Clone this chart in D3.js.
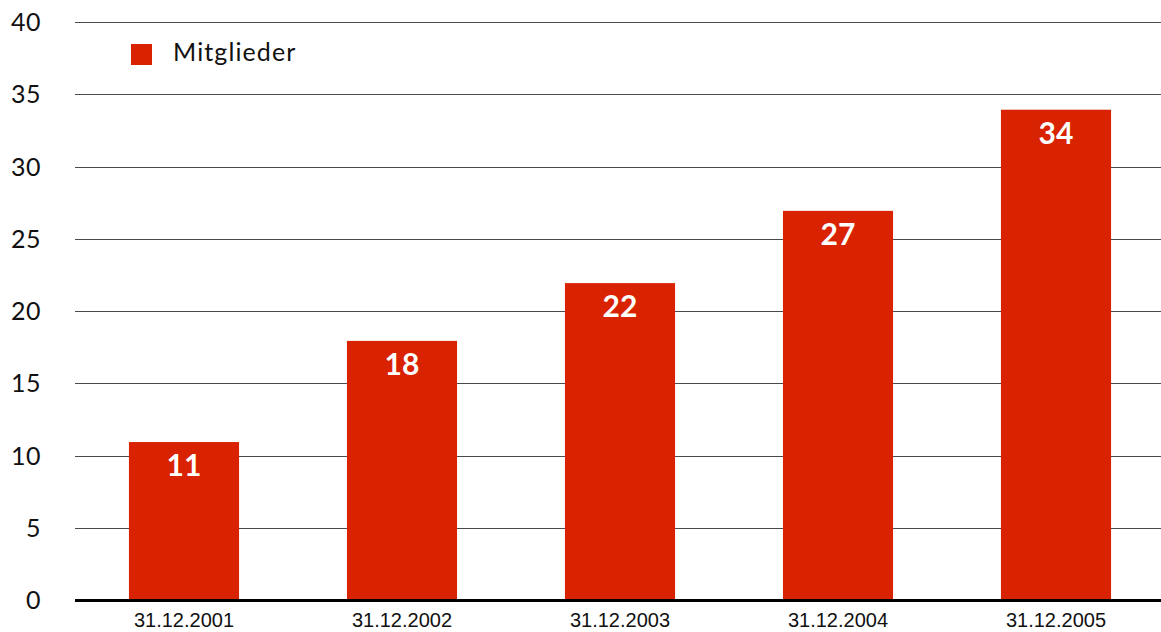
<!DOCTYPE html>
<html>
<head>
<meta charset="utf-8">
<script src="https://cdn.jsdelivr.net/npm/d3@7/dist/d3.min.js"></script>
<style>
  html, body { margin: 0; padding: 0; background: #fff; }
  svg { display: block; }
</style>
</head>
<body>
<div id="chart"></div>
<script>
// chart data
const categories = ['31.12.2001', '31.12.2002', '31.12.2003', '31.12.2004', '31.12.2005'];
const mitglieder = [11, 18, 22, 27, 34];
const yTicks = [0, 5, 10, 15, 20, 25, 30, 35, 40];
const seriesName = 'Mitglieder';

const width = 1161, height = 632;
const plotLeft = 75, plotRight = 1165, plotTop = 22, plotBottom = 600;
const red = '#d92200';
const font = 'Lato, "Open Sans", sans-serif';

const svg = d3.select('#chart').append('svg')
  .attr('width', width)
  .attr('height', height);

const x = d3.scaleBand()
  .domain(categories)
  .range([plotLeft, plotRight])
  .paddingInner(0.495)
  .paddingOuter(0.2475);

const y = d3.scaleLinear()
  .domain([0, 40])
  .range([plotBottom, plotTop]);

// gridlines
svg.append('g')
  .selectAll('line')
  .data(yTicks.filter(d => d > 0))
  .join('line')
  .attr('x1', plotLeft)
  .attr('x2', width)
  .attr('y1', d => Math.round(y(d)) + 0.5)
  .attr('y2', d => Math.round(y(d)) + 0.5)
  .attr('stroke', '#4a4a4a')
  .attr('stroke-width', 1);

// y labels
svg.append('g')
  .selectAll('text')
  .data(yTicks)
  .join('text')
  .attr('x', 41)
  .attr('y', d => y(d))
  .attr('dy', '0.36em')
  .attr('text-anchor', 'end')
  .style('font-family', font)
  .style('font-size', '25px')
  .style('letter-spacing', '0.5px')
  .attr('fill', '#111')
  .text(d => d);

// bars
svg.append('g')
  .selectAll('rect')
  .data(mitglieder)
  .join('rect')
  .attr('x', (d, i) => x(categories[i]))
  .attr('y', d => y(d) + 1)
  .attr('width', x.bandwidth())
  .attr('height', d => y(0) - y(d) - 1)
  .attr('fill', red);

// value labels
svg.append('g')
  .selectAll('text')
  .data(mitglieder)
  .join('text')
  .attr('x', (d, i) => x(categories[i]) + x.bandwidth() / 2)
  .attr('y', d => y(d) + 35)
  .attr('text-anchor', 'middle')
  .style('font-family', font)
  .style('font-size', '30px')
  .style('font-weight', 'bold')
  .attr('fill', '#fff')
  .text(d => d);

// baseline
svg.append('line')
  .attr('x1', plotLeft)
  .attr('x2', width)
  .attr('y1', plotBottom + 0.5)
  .attr('y2', plotBottom + 0.5)
  .attr('stroke', '#000')
  .attr('stroke-width', 3);

// x labels
svg.append('g')
  .selectAll('text')
  .data(categories)
  .join('text')
  .attr('x', d => x(d) + x.bandwidth() / 2)
  .attr('y', 627)
  .attr('text-anchor', 'middle')
  .style('font-family', '"Liberation Sans", Arial, sans-serif')
  .style('font-size', '20px')
  .attr('fill', '#111')
  .text(d => d);

// legend
svg.append('rect')
  .attr('x', 131)
  .attr('y', 44)
  .attr('width', 21)
  .attr('height', 21)
  .attr('fill', red);

svg.append('text')
  .attr('x', 173)
  .attr('y', 61)
  .style('font-family', font)
  .style('font-size', '25px')
  .style('letter-spacing', '1.1px')
  .attr('fill', '#111')
  .text(seriesName);
</script>
</body>
</html>
